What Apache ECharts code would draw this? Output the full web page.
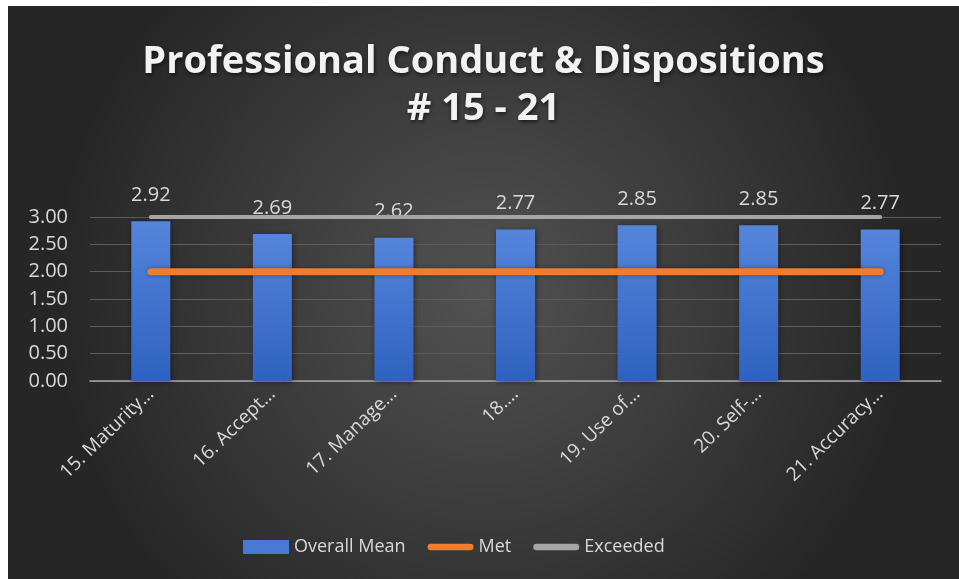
<!DOCTYPE html>
<html><head><meta charset="utf-8">
<script src="https://cdn.jsdelivr.net/npm/echarts@6/dist/echarts.min.js"></script>
<style>
html,body{margin:0;padding:0;background:#fff;width:959px;height:579px;overflow:hidden;}
#c{position:absolute;left:8px;top:6px;width:951px;height:573px;}
</style></head>
<body><div id="c"></div>
<script>
var categories = ['15. Maturity…','16. Accept…','17. Manage…','18.…','19. Use of…','20. Self-…','21. Accuracy…'];
var overallMean = [2.92, 2.69, 2.62, 2.77, 2.85, 2.85, 2.77];
var met = [2, 2, 2, 2, 2, 2, 2];
var exceeded = [3, 3, 3, 3, 3, 3, 3];
var yTicks = [0, 0.5, 1, 1.5, 2, 2.5, 3];

var FONT = 'Open Sans';
var LINE_ICON = 'path://M3.5,0 L46.5,0 A3.5,3.5 0 0 1 46.5,7 L3.5,7 A3.5,3.5 0 0 1 3.5,0 Z';
var chart = echarts.init(document.getElementById('c'), null, {renderer:'canvas'});
chart.setOption({
  backgroundColor: {
    type:'radial', x:0.5, y:0.5, r:0.75,
    colorStops:[{offset:0,color:'#525252'},{offset:1,color:'#262626'}]
  },
  animation:false,
  title:{
    text:'Professional Conduct & Dispositions\n# 15 - 21',
    left:'center', top:28,
    textStyle:{color:'#f2f2f2', fontFamily:FONT, fontWeight:'bold', fontSize:38, lineHeight:47,
      textShadowColor:'rgba(0,0,0,0.6)', textShadowBlur:4, textShadowOffsetX:1, textShadowOffsetY:2}
  },
  grid:{left:82, right:18, top:211, bottom:198, containLabel:false},
  legend:{
    bottom:18, left:230, itemGap:22, itemWidth:46, itemHeight:14,
    textStyle:{color:'#d9d9d9', fontFamily:FONT, fontSize:18},
    data:[
      {name:'Overall Mean', icon:'rect', itemStyle:{color:'#4a79d3'}},
      {name:'Met', icon:LINE_ICON, itemStyle:{color:'#ed7d31'}},
      {name:'Exceeded', icon:LINE_ICON, itemStyle:{color:'#a5a5a5'}}
    ]
  },
  xAxis:{
    type:'category', data:categories, boundaryGap:true,
    axisLine:{lineStyle:{color:'#a6a6a6', width:1.5}},
    axisTick:{show:false},
    axisLabel:{color:'#d9d9d9', fontFamily:FONT, fontSize:19, rotate:44, margin:10, interval:0}
  },
  yAxis:{
    type:'value', min:yTicks[0], max:yTicks[yTicks.length-1], interval:0.5,
    axisLine:{show:false}, axisTick:{show:false},
    splitLine:{lineStyle:{color:'#5e5e5e', width:1}},
    axisLabel:{color:'#d9d9d9', fontFamily:FONT, fontSize:20, margin:22,
      formatter:function(v){return v.toFixed(2);}}
  },
  series:[
    {name:'Overall Mean', type:'bar', data:overallMean, barWidth:39, z:2,
     itemStyle:{
       color:{type:'linear',x:0,y:0,x2:0,y2:1,colorStops:[{offset:0,color:'#5585db'},{offset:1,color:'#2f62c0'}]},
       shadowColor:'rgba(0,0,0,0.45)', shadowBlur:6, shadowOffsetX:1, shadowOffsetY:1
     },
     label:{show:true, position:'top', distance:16, color:'#d9d9d9', fontFamily:FONT, fontSize:20,
       formatter:function(p){return p.value.toFixed(2);}}
    },
    {name:'Met', type:'line', data:met, symbol:'none', z:3, color:'#ed7d31',
     lineStyle:{color:'#ed7d31', width:7, cap:'round', shadowColor:'rgba(0,0,0,0.4)', shadowBlur:4}},
    {name:'Exceeded', type:'line', data:exceeded, symbol:'none', z:3, color:'#a5a5a5',
     lineStyle:{color:'#a5a5a5', width:4, cap:'round'}}
  ]
});
</script>
</body></html>
